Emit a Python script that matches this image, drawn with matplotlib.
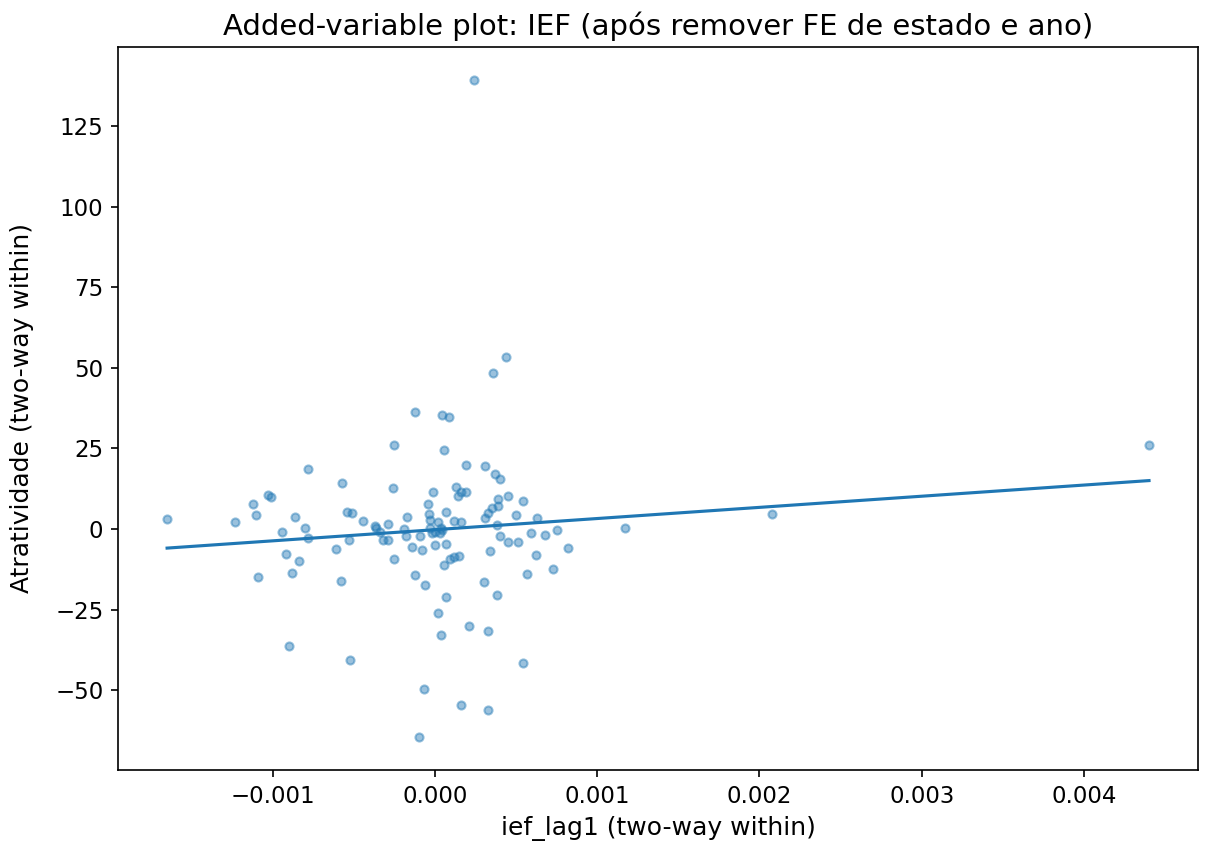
import numpy as np
import matplotlib
matplotlib.use("Agg")
import matplotlib.pyplot as plt

# residualized IEF (x) and atratividade (y)
ief_within = [
    -0.00165, -0.00123, -0.00112, -0.00110, -0.00103, -0.00101, -0.00094, -0.00086,
    -0.00080, -0.00078, -0.00057, -0.00054, -0.00051, -0.00044, -0.00036,
    -0.00078, -0.00092, -0.00084, -0.00088, -0.00109, -0.00061, -0.00053, -0.00058,
    -0.00090, -0.00052,
    0.00044, 0.00036, -0.00012, 0.000045, 0.000087, -0.00025, 0.000055, 0.00019,
    0.00031, 0.00037, 0.00040, -0.00026, -0.00001, 0.00013, 0.00016, 0.00019,
    0.00014, -0.00004, -0.00017, -0.000035, -0.00003, 0.00007, 0.00012, 0.00016,
    0.00039, 0.00045, 0.00054, 0.00031, 0.00033, 0.00035, 0.00039, 0.00050,
    0.00063, 0.00038, 0.00075, 0.00068, 0.00059, 0.00117,
    -0.00037, -0.00029, -0.00019, -0.00034, 0.00002, 0.000035, -0.00003, 0.0,
    -0.00032, -0.00029, -0.00018, -0.00009, -0.00014, -0.00008, -0.00025,
    -0.00002, 0.00003, 0.0, 0.00007, 0.000045,
    0.000055, 0.00009, 0.00012, 0.00015, -0.00012, -0.00006, 0.00007, 0.00002,
    0.000035, 0.00021, 0.00033, 0.00030, 0.00038, 0.00034, 0.00040, 0.00045,
    0.00051, 0.00082, 0.00062, 0.00057, 0.00073, 0.00054, -0.00007, 0.00016,
    0.00033, -0.00010, 0.00024, 0.00208, 0.00440,
]
atrat_within = [
    3.1, 2.2, 7.9, 4.3, 10.7, 9.9, -0.8, 3.6,
    0.2, 18.5, 14.3, 5.4, 5.1, 2.6, 0.4,
    -2.9, -7.6, -10.0, -13.5, -14.9, -6.1, -3.4, -16.2,
    -36.4, -40.5,
    53.4, 48.4, 36.4, 35.3, 34.6, 26.2, 24.4, 20.0,
    19.6, 17.0, 15.4, 12.6, 11.5, 13.0, 11.4, 11.6,
    10.1, 7.9, 3.6, 4.7, 2.8, 5.2, 2.4, 2.3,
    9.4, 10.1, 8.8, 3.3, 5.1, 6.4, 7.3, 4.5,
    3.4, 1.2, -0.4, -1.9, -1.1, 0.4,
    0.9, 1.6, -0.1, -0.8, 2.3, 0.2, 0.4, -0.8,
    -3.4, -3.4, -2.1, -2.2, -5.7, -6.5, -9.4,
    -1.3, -1.3, -5.0, -4.7, -0.3,
    -11.0, -9.4, -8.8, -8.4, -14.1, -17.2, -21.2, -26.0,
    -32.9, -30.1, -31.6, -16.5, -20.5, -6.9, -2.3, -4.1,
    -4.1, -5.8, -8.1, -13.8, -12.5, -41.4, -49.7, -54.6,
    -56.0, -64.5, 139.3, 4.7, 26.2,
]

x = np.array(ief_within)
y = np.array(atrat_within)
b, a = np.polyfit(x, y, 1)
xs = np.linspace(x.min(), x.max(), 100)

fig = plt.figure(figsize=(8.06, 5.647), dpi=150)
ax = fig.add_axes([0.0976, 0.091, 0.8934, 0.8535])
ax.scatter(x, y, s=15, alpha=0.45)
ax.plot(xs, a + b * xs)
ax.set_title("Added-variable plot: IEF (após remover FE de estado e ano)", fontsize=14)
ax.set_xlabel("ief_lag1 (two-way within)", fontsize=12)
ax.set_ylabel("Atratividade (two-way within)", fontsize=12, labelpad=10)
ax.tick_params(labelsize=11)

fig.savefig("out.png", dpi=150)
